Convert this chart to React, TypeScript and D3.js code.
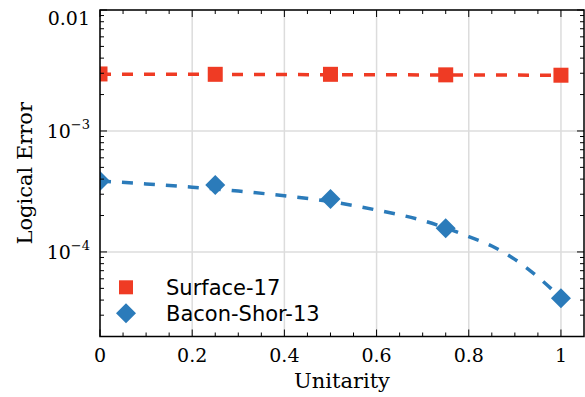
import React from "react";
import * as d3 from "d3";

// measured points
const unitarity = [0, 0.25, 0.5, 0.75, 1];
const surface17 = [2.96e-3, 2.94e-3, 2.94e-3, 2.91e-3, 2.89e-3];
const baconShor13 = [3.86e-4, 3.58e-4, 2.74e-4, 1.57e-4, 4.14e-5];

// fitted curves (dashed)
const surfaceFitX = [0, 1];
const surfaceFit = [2.95e-3, 2.89e-3];
const baconFitX = [0, 0.1, 0.2, 0.3, 0.4, 0.5, 0.6, 0.7, 0.8, 0.85, 0.9, 0.95, 1];
const baconFit = [3.86e-4, 3.65e-4, 3.43e-4, 3.19e-4, 2.91e-4, 2.61e-4, 2.22e-4, 1.82e-4, 1.34e-4, 1.12e-4, 8.68e-5, 6.21e-5, 4.17e-5];

const xMajor = [0, 0.2, 0.4, 0.6, 0.8, 1];
const xMajorLabels = ["0", "0.2", "0.4", "0.6", "0.8", "1"];
const yMajor = [1e-2, 1e-3, 1e-4];
const yMajorLabels = [
  { base: "0.01", exp: "" },
  { base: "10", exp: "\u22123" },
  { base: "10", exp: "\u22124" },
];

const W = 585;
const H = 397;
const left = 100;
const right = 584;
const top = 10;
const bottom = 336.5;

const RED = "#ef3b24";
const BLUE = "#2b7bba";
const SERIF = "DejaVu Serif";
const SANS = "DejaVu Sans";

export default function App() {
  const x = d3.scaleLinear().domain([0, 1.05]).range([left, right]);
  const y = d3.scaleLog().domain([2e-5, 1e-2]).range([bottom, top]);

  const xMinor = d3.range(0, 1.05, 0.05).filter((v) => Math.abs(v * 5 - Math.round(v * 5)) > 1e-6);
  const yMinor = y.ticks().filter((v) => !yMajor.some((m) => Math.abs(m - v) / m < 1e-6));

  const line = d3
    .line<number>()
    .x((_, i) => 0)
    .curve(d3.curveMonotoneX);

  const surfacePath = d3
    .line<[number, number]>()
    .x((d) => x(d[0]))
    .y((d) => y(d[1]))(surfaceFitX.map((v, i) => [v, surfaceFit[i]]));
  const baconPath = d3
    .line<[number, number]>()
    .x((d) => x(d[0]))
    .y((d) => y(d[1]))
    .curve(d3.curveMonotoneX)(baconFitX.map((v, i) => [v, baconFit[i]]));
  void line;

  const sq = 15;
  const dia = 10;
  const diamond = (cx: number, cy: number, r: number) =>
    `M${cx},${cy - r}L${cx + r},${cy}L${cx},${cy + r}L${cx - r},${cy}Z`;

  return (
    <svg width={W} height={H} style={{ position: "absolute", left: 0, top: 0 }}>
      <defs>
        <clipPath id="plot">
          <rect x={left} y={top} width={right - left} height={bottom - top} />
        </clipPath>
      </defs>
      <rect width={W} height={H} fill="white" />

      {/* grid */}
      <g stroke="#dcdcdc" strokeWidth={1.5}>
        {xMajor.map((v) => (
          <line key={"gx" + v} x1={x(v)} x2={x(v)} y1={top} y2={bottom} />
        ))}
        {yMajor.map((v) => (
          <line key={"gy" + v} x1={left} x2={right} y1={y(v)} y2={y(v)} />
        ))}
      </g>

      {/* data */}
      <g clipPath="url(#plot)">
        <path d={surfacePath ?? ""} fill="none" stroke={RED} strokeWidth={3.5} strokeDasharray="11 11" />
        <path d={baconPath ?? ""} fill="none" stroke={BLUE} strokeWidth={3.5} strokeDasharray="11 11" />
        {unitarity.map((u, i) => (
          <rect key={"s" + i} x={x(u) - sq / 2} y={y(surface17[i]) - sq / 2} width={sq} height={sq} fill={RED} />
        ))}
        {unitarity.map((u, i) => (
          <path key={"b" + i} d={diamond(x(u), y(baconShor13[i]), dia)} fill={BLUE} />
        ))}
      </g>

      {/* ticks on all sides, inward */}
      <g stroke="black" strokeWidth={1}>
        {xMajor.map((v) => (
          <g key={"tx" + v}>
            <line x1={x(v)} x2={x(v)} y1={bottom} y2={bottom - 7} />
            <line x1={x(v)} x2={x(v)} y1={top} y2={top + 7} />
          </g>
        ))}
        {xMinor.map((v) => (
          <g key={"mx" + v}>
            <line x1={x(v)} x2={x(v)} y1={bottom} y2={bottom - 4} />
            <line x1={x(v)} x2={x(v)} y1={top} y2={top + 4} />
          </g>
        ))}
        {yMajor.map((v) => (
          <g key={"ty" + v}>
            <line x1={left} x2={left + 7} y1={y(v)} y2={y(v)} />
            <line x1={right} x2={right - 7} y1={y(v)} y2={y(v)} />
          </g>
        ))}
        {yMinor.map((v) => (
          <g key={"my" + v}>
            <line x1={left} x2={left + 4} y1={y(v)} y2={y(v)} />
            <line x1={right} x2={right - 4} y1={y(v)} y2={y(v)} />
          </g>
        ))}
      </g>
      <rect x={left} y={top} width={right - left} height={bottom - top} fill="none" stroke="black" strokeWidth={1.5} />

      {/* tick labels */}
      <g fontFamily={SERIF} fontSize={19} fill="black">
        {xMajor.map((v, i) => (
          <text key={"lx" + v} x={x(v)} y={362} textAnchor="middle">
            {xMajorLabels[i]}
          </text>
        ))}
        {yMajor.map((v, i) => {
          const lab = yMajorLabels[i];
          const baseY = lab.exp ? y(v) + 7 : y(v) + 15;
          return (
            <text key={"ly" + v} x={90} y={baseY} textAnchor="end">
              {lab.base}
              {lab.exp && (
                <tspan fontSize={13} dy={-9}>
                  {lab.exp}
                </tspan>
              )}
            </text>
          );
        })}
      </g>

      {/* axis titles */}
      <text x={(left + right) / 2} y={388} textAnchor="middle" fontFamily={SERIF} fontSize={21}>
        Unitarity
      </text>
      <text
        transform={`translate(32,${(top + bottom) / 2}) rotate(-90)`}
        textAnchor="middle"
        fontFamily={SERIF}
        fontSize={21}
      >
        Logical Error
      </text>

      {/* legend */}
      <g fontFamily={SANS} fontSize={21}>
        <rect x={126 - 7} y={287.3 - 7} width={14} height={14} fill={RED} />
        <text x={166} y={295}>Surface-17</text>
        <path d={diamond(126, 313.3, 10)} fill={BLUE} />
        <text x={166} y={321}>Bacon-Shor-13</text>
      </g>
    </svg>
  );
}
